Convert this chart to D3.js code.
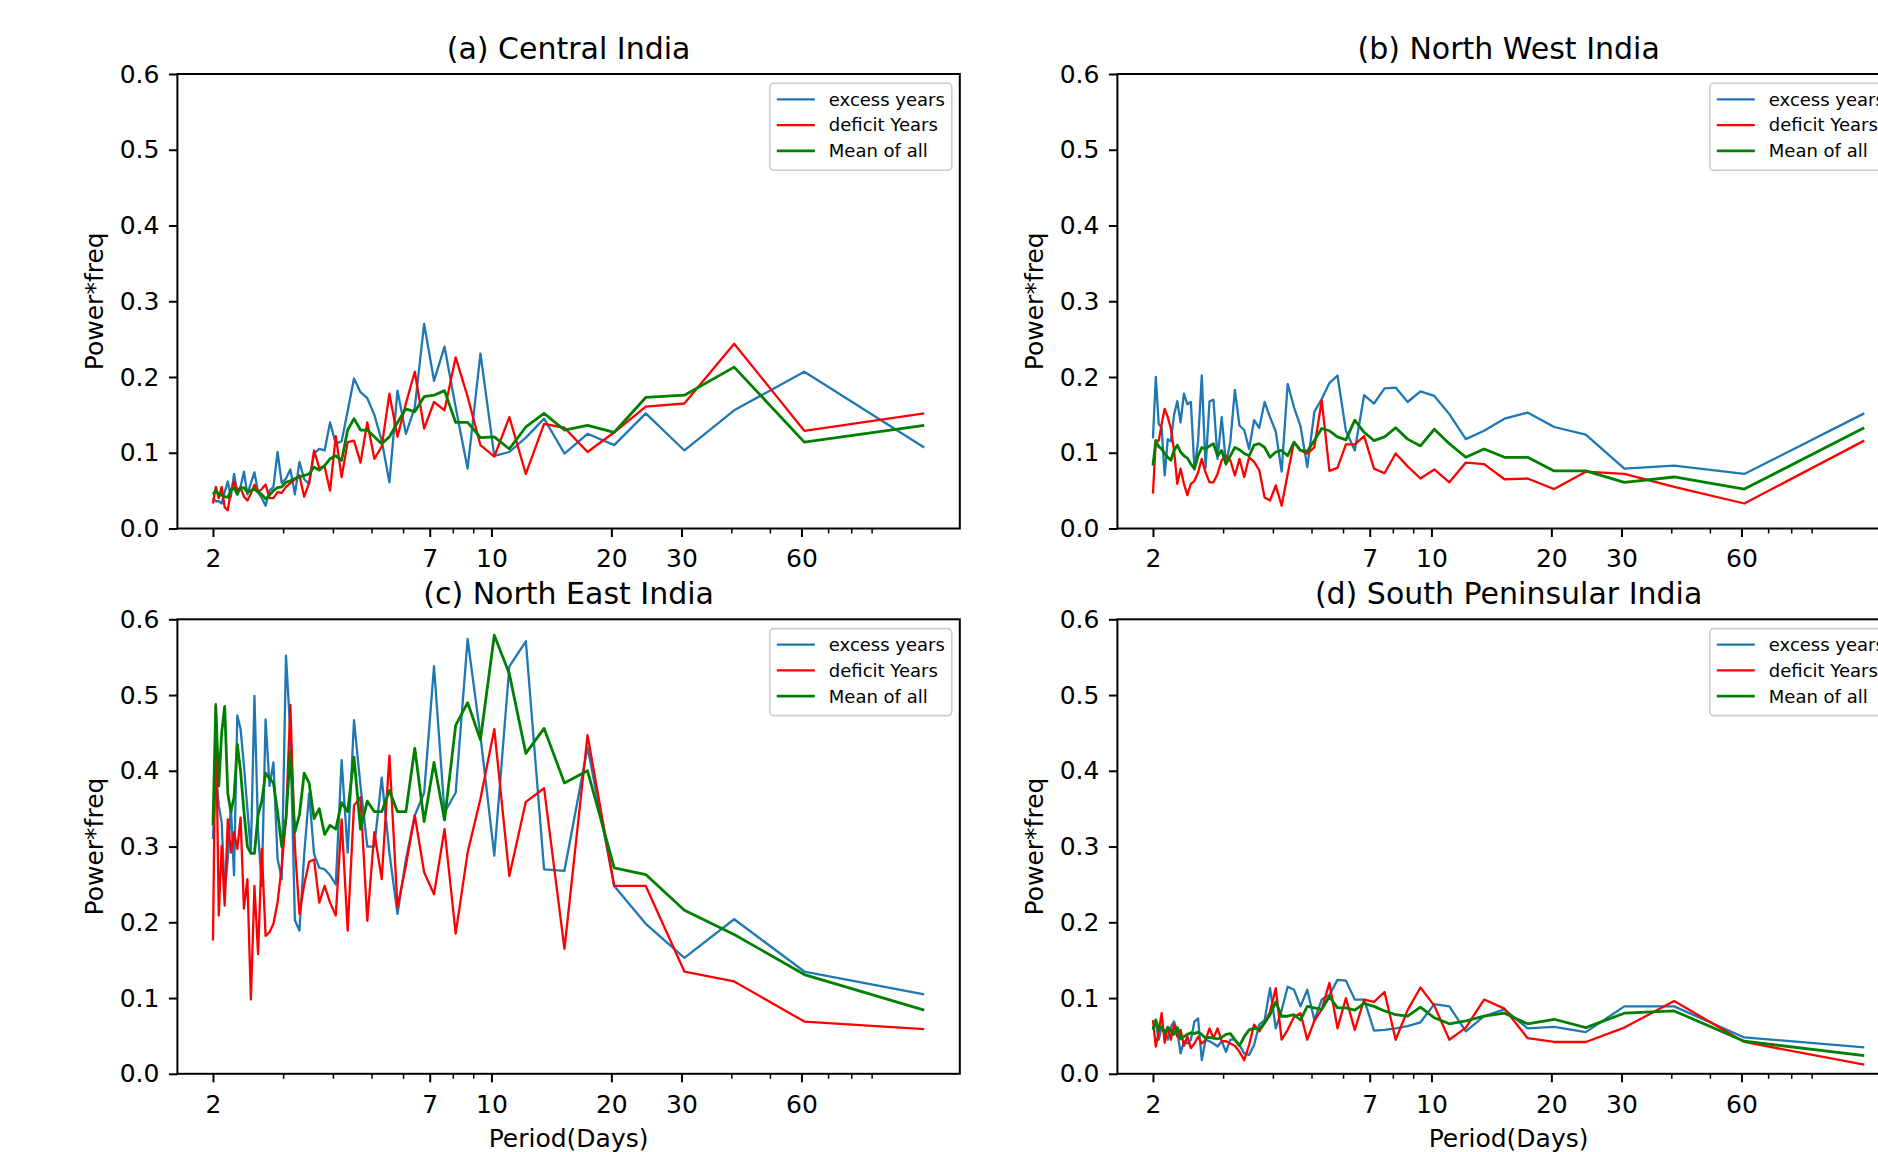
<!DOCTYPE html>
<html>
<head>
<meta charset="utf-8">
<script src="https://cdn.jsdelivr.net/npm/d3@7"></script>
<style>
  html, body { margin: 0; padding: 0; background: #ffffff; overflow: hidden; }
  svg { display: block; font-family: "DejaVu Sans", sans-serif; }
</style>
</head>
<body>
<svg id="chart" width="1878" height="1152"></svg>
<script>
// ---------------- DATA ----------------
// Spectral periods (days) of a 122-day season
const periods = [
  2.000, 2.033, 2.068, 2.103, 2.140, 2.179, 2.218, 2.259, 2.302, 2.346,
  2.392, 2.440, 2.490, 2.542, 2.596, 2.652, 2.711, 2.773, 2.837, 2.905,
  2.976, 3.050, 3.128, 3.211, 3.297, 3.389, 3.486, 3.588, 3.697, 3.813,
  3.935, 4.067, 4.207, 4.357, 4.519, 4.692, 4.880, 5.083, 5.304, 5.545,
  5.810, 6.100, 6.421, 6.778, 7.176, 7.625, 8.133, 8.714, 9.385, 10.167,
  11.091, 12.200, 13.556, 15.250, 17.429, 20.333, 24.400, 30.500, 40.667, 61.000, 122.000
];
const xTickPeriods = [2, 7, 10, 20, 30, 60];
const xMinorPeriods = [3, 4, 5, 6, 8, 9, 40, 50, 70, 80, 90];
const yTickValues = [0.0, 0.1, 0.2, 0.3, 0.4, 0.5, 0.6];
const seriesNames = ["excess years", "deficit Years", "Mean of all"];
const panelTitles = ["(a) Central India", "(b) North West India", "(c) North East India", "(d) South Peninsular India"];

// (a) Central India
const centralExcess = [
  0.040, 0.036, 0.036, 0.033, 0.048, 0.062, 0.042, 0.072, 0.048, 0.055,
  0.075, 0.045, 0.060, 0.074, 0.048, 0.040, 0.030, 0.050, 0.055, 0.101,
  0.060, 0.066, 0.078, 0.045, 0.088, 0.065, 0.059, 0.099, 0.105, 0.103,
  0.140, 0.112, 0.115, 0.155, 0.198, 0.180, 0.172, 0.150, 0.116, 0.061,
  0.182, 0.125, 0.160, 0.270, 0.195, 0.240, 0.160, 0.079, 0.231, 0.096,
  0.101, 0.120, 0.145, 0.099, 0.125, 0.110, 0.152, 0.103, 0.156, 0.207, 0.107
];
const centralDeficit = [
  0.033, 0.055, 0.040, 0.055, 0.028, 0.024, 0.050, 0.062, 0.050, 0.054,
  0.042, 0.037, 0.046, 0.058, 0.048, 0.052, 0.058, 0.040, 0.040, 0.048,
  0.047, 0.055, 0.060, 0.065, 0.070, 0.042, 0.060, 0.103, 0.080, 0.082,
  0.050, 0.122, 0.068, 0.114, 0.116, 0.087, 0.140, 0.092, 0.108, 0.178,
  0.121, 0.165, 0.207, 0.132, 0.167, 0.156, 0.226, 0.174, 0.110, 0.095,
  0.147, 0.072, 0.138, 0.133, 0.101, 0.127, 0.161, 0.165, 0.244, 0.129, 0.152
];
const centralMean = [
  0.045, 0.050, 0.045, 0.044, 0.042, 0.041, 0.050, 0.054, 0.045, 0.054,
  0.054, 0.048, 0.050, 0.052, 0.048, 0.045, 0.039, 0.044, 0.050, 0.054,
  0.055, 0.061, 0.063, 0.066, 0.068, 0.070, 0.072, 0.081, 0.077, 0.083,
  0.092, 0.096, 0.090, 0.130, 0.145, 0.130, 0.130, 0.121, 0.112, 0.121,
  0.140, 0.158, 0.154, 0.174, 0.176, 0.182, 0.140, 0.140, 0.120, 0.121,
  0.105, 0.134, 0.152, 0.130, 0.136, 0.127, 0.173, 0.176, 0.213, 0.114, 0.136
];

// (b) North West India
const northWestExcess = [
  0.119, 0.200, 0.138, 0.133, 0.070, 0.118, 0.115, 0.150, 0.168, 0.140,
  0.178, 0.164, 0.167, 0.078, 0.115, 0.202, 0.080, 0.168, 0.170, 0.092,
  0.147, 0.085, 0.115, 0.183, 0.136, 0.130, 0.105, 0.143, 0.133, 0.167,
  0.147, 0.128, 0.075, 0.191, 0.160, 0.135, 0.081, 0.154, 0.171, 0.192,
  0.202, 0.129, 0.103, 0.176, 0.165, 0.185, 0.186, 0.167, 0.181, 0.175,
  0.151, 0.118, 0.129, 0.145, 0.153, 0.134, 0.124, 0.079, 0.083, 0.072, 0.152
];
const northWestDeficit = [
  0.046, 0.116, 0.116, 0.138, 0.158, 0.147, 0.132, 0.103, 0.059, 0.079,
  0.059, 0.044, 0.059, 0.063, 0.074, 0.092, 0.074, 0.061, 0.061, 0.072,
  0.090, 0.096, 0.090, 0.070, 0.092, 0.068, 0.094, 0.088, 0.077, 0.041,
  0.037, 0.057, 0.030, 0.072, 0.114, 0.103, 0.099, 0.107, 0.169, 0.076,
  0.080, 0.111, 0.111, 0.122, 0.079, 0.073, 0.099, 0.082, 0.066, 0.078,
  0.061, 0.087, 0.085, 0.065, 0.066, 0.052, 0.075, 0.072, 0.055, 0.033, 0.116
];
const northWestMean = [
  0.083, 0.116, 0.108, 0.105, 0.099, 0.094, 0.090, 0.103, 0.110, 0.101,
  0.096, 0.093, 0.085, 0.079, 0.096, 0.107, 0.105, 0.109, 0.112, 0.096,
  0.103, 0.085, 0.096, 0.107, 0.104, 0.099, 0.096, 0.110, 0.112, 0.107,
  0.094, 0.101, 0.103, 0.096, 0.114, 0.103, 0.102, 0.116, 0.132, 0.129,
  0.121, 0.117, 0.143, 0.127, 0.116, 0.121, 0.133, 0.118, 0.109, 0.131,
  0.112, 0.094, 0.105, 0.094, 0.094, 0.076, 0.076, 0.061, 0.068, 0.052, 0.133
];

// (c) North East India
const northEastExcess = [
  0.310, 0.400, 0.354, 0.332, 0.240, 0.284, 0.354, 0.262, 0.473, 0.455,
  0.407, 0.350, 0.292, 0.499, 0.319, 0.248, 0.468, 0.380, 0.411, 0.284,
  0.257, 0.552, 0.450, 0.203, 0.189, 0.290, 0.370, 0.290, 0.272, 0.270,
  0.262, 0.250, 0.414, 0.292, 0.467, 0.380, 0.300, 0.300, 0.391, 0.292,
  0.211, 0.283, 0.341, 0.371, 0.538, 0.345, 0.371, 0.574, 0.446, 0.288,
  0.538, 0.571, 0.270, 0.268, 0.431, 0.248, 0.198, 0.153, 0.204, 0.135, 0.105
];
const northEastDeficit = [
  0.176, 0.488, 0.209, 0.301, 0.222, 0.336, 0.292, 0.319, 0.297, 0.338,
  0.218, 0.257, 0.098, 0.248, 0.158, 0.297, 0.182, 0.187, 0.198, 0.226,
  0.274, 0.336, 0.487, 0.300, 0.211, 0.250, 0.280, 0.283, 0.226, 0.248,
  0.226, 0.209, 0.336, 0.189, 0.354, 0.365, 0.202, 0.319, 0.257, 0.420,
  0.220, 0.275, 0.341, 0.266, 0.237, 0.323, 0.185, 0.292, 0.363, 0.455,
  0.261, 0.359, 0.377, 0.165, 0.447, 0.248, 0.248, 0.135, 0.122, 0.069, 0.059
];
const northEastMean = [
  0.328, 0.486, 0.380, 0.450, 0.485, 0.370, 0.346, 0.365, 0.435, 0.400,
  0.346, 0.300, 0.291, 0.291, 0.342, 0.360, 0.397, 0.390, 0.384, 0.346,
  0.300, 0.337, 0.425, 0.319, 0.342, 0.397, 0.384, 0.337, 0.350, 0.316,
  0.328, 0.323, 0.358, 0.346, 0.418, 0.323, 0.360, 0.346, 0.346, 0.374,
  0.346, 0.346, 0.430, 0.333, 0.411, 0.335, 0.460, 0.490, 0.441, 0.579,
  0.528, 0.423, 0.456, 0.384, 0.400, 0.272, 0.263, 0.216, 0.184, 0.131, 0.084
];

// (d) South Peninsular India
const southExcess = [
  0.060, 0.067, 0.045, 0.062, 0.056, 0.045, 0.062, 0.069, 0.056, 0.027,
  0.043, 0.040, 0.045, 0.069, 0.073, 0.018, 0.045, 0.043, 0.040, 0.036,
  0.043, 0.029, 0.045, 0.045, 0.038, 0.027, 0.025, 0.038, 0.065, 0.071,
  0.113, 0.060, 0.084, 0.115, 0.111, 0.089, 0.111, 0.071, 0.098, 0.104,
  0.124, 0.123, 0.098, 0.098, 0.057, 0.058, 0.060, 0.063, 0.068, 0.092,
  0.089, 0.056, 0.076, 0.085, 0.060, 0.062, 0.055, 0.089, 0.089, 0.048, 0.035
];
const southDeficit = [
  0.071, 0.036, 0.056, 0.080, 0.041, 0.062, 0.045, 0.065, 0.049, 0.058,
  0.037, 0.049, 0.034, 0.040, 0.049, 0.040, 0.045, 0.060, 0.047, 0.060,
  0.043, 0.043, 0.040, 0.037, 0.029, 0.018, 0.038, 0.065, 0.056, 0.067,
  0.082, 0.113, 0.045, 0.058, 0.075, 0.080, 0.045, 0.070, 0.085, 0.120,
  0.060, 0.100, 0.058, 0.098, 0.095, 0.108, 0.045, 0.084, 0.114, 0.090,
  0.045, 0.061, 0.098, 0.086, 0.047, 0.042, 0.042, 0.061, 0.096, 0.042, 0.012
];
const southMean = [
  0.058, 0.071, 0.059, 0.062, 0.054, 0.061, 0.058, 0.052, 0.061, 0.046,
  0.049, 0.052, 0.054, 0.053, 0.055, 0.052, 0.047, 0.048, 0.047, 0.046,
  0.048, 0.052, 0.053, 0.045, 0.037, 0.049, 0.058, 0.060, 0.059, 0.067,
  0.078, 0.095, 0.076, 0.076, 0.078, 0.071, 0.089, 0.087, 0.085, 0.102,
  0.087, 0.087, 0.084, 0.093, 0.089, 0.083, 0.078, 0.076, 0.088, 0.074,
  0.066, 0.070, 0.076, 0.080, 0.066, 0.072, 0.061, 0.080, 0.083, 0.043, 0.024
];

const panelSeries = [
  [centralExcess, centralDeficit, centralMean],
  [northWestExcess, northWestDeficit, northWestMean],
  [northEastExcess, northEastDeficit, northEastMean],
  [southExcess, southDeficit, southMean]
];

// ---------------- LAYOUT / STYLE ----------------
const colLeft = [177.4, 1117.4];
const rowTop = [74, 619.3];
const W = 782.4, H = 454.5;
const colors = ["#1f77b4", "#ff0000", "#008000"];
const widths = [2.3, 2.3, 2.8];

const svg = d3.select("#chart");
svg.append("rect").attr("width", 1878).attr("height", 1152).attr("fill", "#ffffff");

// log x domain with 5% (log-space) margins, like matplotlib autoscale
const ext = d3.extent(periods);
const padF = Math.pow(ext[1] / ext[0], 0.05);

panelTitles.forEach((title, i) => {
  const col = i % 2, row = Math.floor(i / 2);
  const left = colLeft[col], top = rowTop[row];
  const x = d3.scaleLog().domain([ext[0] / padF, ext[1] * padF]).range([left, left + W]);
  const y = d3.scaleLinear().domain([0, 0.6]).range([top + H, top]);

  const g = svg.append("g");

  const clipId = "clip" + i;
  svg.append("clipPath").attr("id", clipId)
    .append("rect").attr("x", left).attr("y", top).attr("width", W).attr("height", H);

  // lines
  const line = d3.line().x((d, j) => x(periods[j])).y(d => y(d));
  const lg = g.append("g").attr("clip-path", `url(#${clipId})`);
  panelSeries[i].forEach((vals, s) => {
    lg.append("path").datum(vals)
      .attr("d", line)
      .attr("fill", "none")
      .attr("stroke", colors[s])
      .attr("stroke-width", widths[s])
      .attr("stroke-linejoin", "round")
      .attr("stroke-linecap", "butt");
  });

  // x axis major
  const xAxis = d3.axisBottom(x).tickValues(xTickPeriods).tickFormat(d3.format("d"))
    .tickSize(8.5).tickPadding(12.5).tickSizeOuter(0);
  const gx = g.append("g").attr("transform", `translate(0,${top + H})`).call(xAxis);
  gx.select(".domain").remove();
  gx.selectAll(".tick line").attr("stroke", "#000").attr("stroke-width", 2);
  gx.selectAll(".tick text").attr("font-size", 25).attr("fill", "#000")
    .attr("font-family", "DejaVu Sans, sans-serif");

  // x axis minor
  const xMinor = d3.axisBottom(x).tickValues(xMinorPeriods).tickFormat("").tickSize(5).tickSizeOuter(0);
  const gxm = g.append("g").attr("transform", `translate(0,${top + H})`).call(xMinor);
  gxm.select(".domain").remove();
  gxm.selectAll(".tick line").attr("stroke", "#000").attr("stroke-width", 1.5);

  // y axis
  const yAxis = d3.axisLeft(y).tickValues(yTickValues).tickFormat(d3.format(".1f"))
    .tickSize(8.5).tickPadding(9.5).tickSizeOuter(0);
  const gy = g.append("g").attr("transform", `translate(${left},0)`).call(yAxis);
  gy.select(".domain").remove();
  gy.selectAll(".tick line").attr("stroke", "#000").attr("stroke-width", 2);
  gy.selectAll(".tick text").attr("font-size", 25).attr("fill", "#000")
    .attr("font-family", "DejaVu Sans, sans-serif");

  // frame (spines)
  g.append("rect").attr("x", left).attr("y", top).attr("width", W).attr("height", H)
    .attr("fill", "none").attr("stroke", "#000").attr("stroke-width", 2);

  // title
  g.append("text").attr("x", left + W / 2).attr("y", top - 15.5)
    .attr("text-anchor", "middle").attr("font-size", 30).attr("fill", "#000")
    .text(title);

  // y label
  g.append("text")
    .attr("transform", `translate(${left - 74},${top + H / 2}) rotate(-90)`)
    .attr("text-anchor", "middle").attr("font-size", 25).attr("fill", "#000")
    .text("Power*freq");

  // x label (bottom row only)
  if (row === 1) {
    g.append("text").attr("x", left + W / 2).attr("y", 1147)
      .attr("text-anchor", "middle").attr("font-size", 25).attr("fill", "#000")
      .text("Period(Days)");
  }

  // legend
  const lbW = 182, lbH = 87;
  const lbX = left + W - 8 - lbW, lbY = top + 9.3;
  const leg = g.append("g");
  leg.append("rect").attr("x", lbX).attr("y", lbY).attr("width", lbW).attr("height", lbH)
    .attr("rx", 4).attr("ry", 4)
    .attr("fill", "#ffffff").attr("fill-opacity", 0.8)
    .attr("stroke", "#cccccc").attr("stroke-width", 1.6);
  seriesNames.forEach((name, s) => {
    const ry = lbY + 16 + s * 25.8;
    leg.append("line").attr("x1", lbX + 7).attr("x2", lbX + 45).attr("y1", ry).attr("y2", ry)
      .attr("stroke", colors[s]).attr("stroke-width", widths[s]);
    leg.append("text").attr("x", lbX + 59).attr("y", ry).attr("dy", "0.35em")
      .attr("font-size", 18).attr("fill", "#000").text(name);
  });
});
</script>
</body>
</html>
